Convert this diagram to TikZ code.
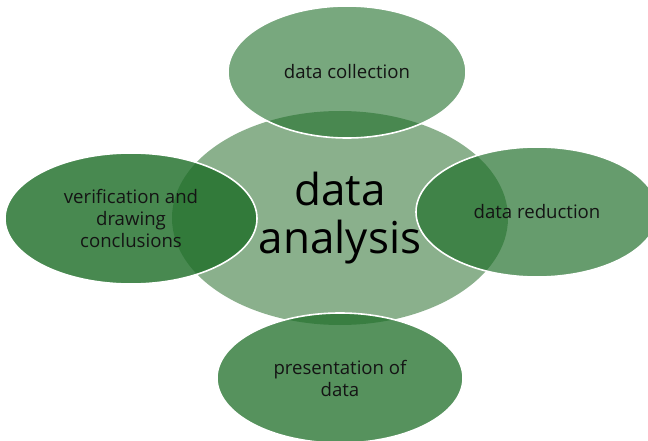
\documentclass[tikz,border=0pt]{standalone}
\usepackage{fontspec}
\setmainfont{Open Sans}
\usetikzlibrary{shapes.geometric}
\definecolor{leaf}{RGB}{30,110,40}
\definecolor{hub}{RGB}{138,176,140}
\definecolor{ink}{RGB}{20,20,20}
\tikzset{
  hubnode/.style={ellipse, inner sep=0pt, fill=hub, text=black, align=center,
    font=\fontsize{44}{48}\selectfont},
  petal/.style={ellipse, inner sep=0pt, fill=leaf, draw=white, line width=1.6pt,
    text=ink, text opacity=1, align=center,
    font=\fontsize{18.6}{22}\selectfont},
}
\begin{document}
\begin{tikzpicture}[x=1pt, y=-1pt]
  \useasboundingbox (0,0) rectangle (648,441);
  \clip (0,0) rectangle (648,441);
  \fill[white] (0,0) rectangle (648,441);
  % central topic
  \node[hubnode, minimum width=336pt, minimum height=214pt] (hub) at (340,218) {data\\analysis};
  % surrounding steps, semi-transparent over the centre
  \node[petal, fill opacity=0.6, minimum width=238pt, minimum height=132pt] (collect) at (347,72) {data collection};
  \node[petal, fill opacity=0.68, minimum width=242pt, minimum height=130pt] (reduce) at (537,212) {data reduction};
  \node[petal, fill opacity=0.75, minimum width=246pt, minimum height=130pt] (present) at (340,378) {presentation of\\data};
  \node[petal, fill opacity=0.81, minimum width=252pt, minimum height=131pt] (verify) at (131,218.5) {verification and\\drawing\\conclusions};
\end{tikzpicture}
\end{document}
